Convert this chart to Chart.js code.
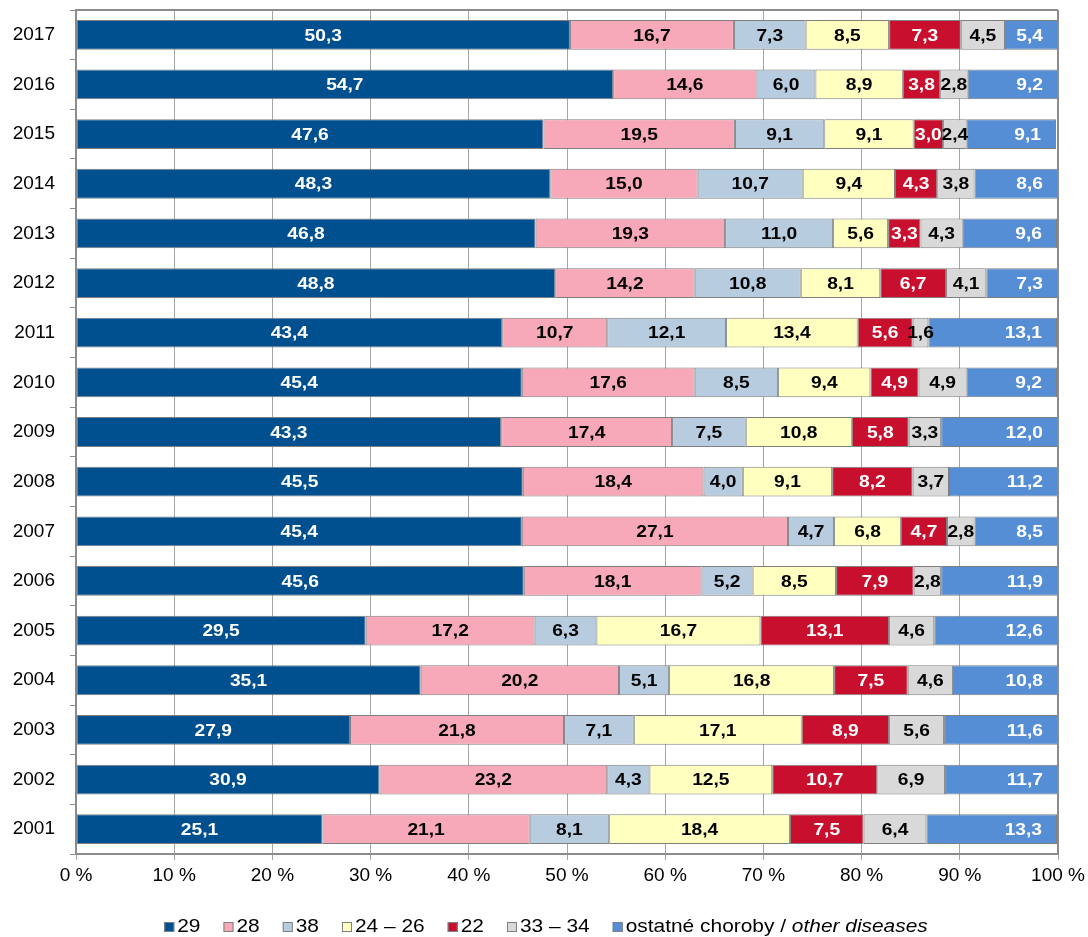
<!DOCTYPE html>
<html>
<head>
<meta charset="utf-8">
<script src="https://cdn.jsdelivr.net/npm/chart.js@4.4.1/dist/chart.umd.min.js"></script>
<style>
html,body{margin:0;padding:0;background:#fff;}
#wrap{width:1088px;height:937px;position:relative;}
</style>
</head>
<body>
<div id="wrap"><canvas id="c" width="1088" height="937"></canvas></div>
<script>
const years = ['2017','2016','2015','2014','2013','2012','2011','2010','2009','2008','2007','2006','2005','2004','2003','2002','2001'];
const seriesNames = ['29','28','38','24 – 26','22','33 – 34','ostatné choroby / '];
const s29    = [50.3,54.7,47.6,48.3,46.8,48.8,43.4,45.4,43.3,45.5,45.4,45.6,29.5,35.1,27.9,30.9,25.1];
const s28    = [16.7,14.6,19.5,15.0,19.3,14.2,10.7,17.6,17.4,18.4,27.1,18.1,17.2,20.2,21.8,23.2,21.1];
const s38    = [7.3,6.0,9.1,10.7,11.0,10.8,12.1,8.5,7.5,4.0,4.7,5.2,6.3,5.1,7.1,4.3,8.1];
const s2426  = [8.5,8.9,9.1,9.4,5.6,8.1,13.4,9.4,10.8,9.1,6.8,8.5,16.7,16.8,17.1,12.5,18.4];
const s22    = [7.3,3.8,3.0,4.3,3.3,6.7,5.6,4.9,5.8,8.2,4.7,7.9,13.1,7.5,8.9,10.7,7.5];
const s3334  = [4.5,2.8,2.4,3.8,4.3,4.1,1.6,4.9,3.3,3.7,2.8,2.8,4.6,4.6,5.6,6.9,6.4];
const sOther = [5.4,9.2,9.1,8.6,9.6,7.3,13.1,9.2,12.0,11.2,8.5,11.9,12.6,10.8,11.6,11.7,13.3];
const xTicks = [0,10,20,30,40,50,60,70,80,90,100];

const colors = ['#00508f','#f8a9b9','#b8cce0','#ffffc0','#c8102e','#d9d9d9','#558ed5'];
const labelColors = ['#fff','#000','#000','#000','#fff','#000','#fff'];
const allSeries = [s29,s28,s38,s2426,s22,s3334,sOther];

const datasets = allSeries.map((d,i)=>({
  label: seriesNames[i],
  data: d,
  backgroundColor: colors[i],
  borderColor: '#7f7f7f',
  borderWidth: 1,
  borderSkipped: false,
  barPercentage: 0.6,
  categoryPercentage: 1.0
}));

const FONT = '"Liberation Sans", Arial, sans-serif';

const framePlugin = {
  id: 'frame',
  afterDatasetsDraw(chart) {
    const ctx = chart.ctx, a = chart.chartArea;
    ctx.save();
    ctx.strokeStyle = '#8c8c8c';
    ctx.lineWidth = 2;
    ctx.beginPath();
    ctx.moveTo(a.left, a.top); ctx.lineTo(a.right, a.top);
    ctx.moveTo(a.right, a.top); ctx.lineTo(a.right, a.bottom);
    ctx.stroke();
    ctx.restore();
  }
};

function stretchedText(ctx, txt, x, y, sx) {
  ctx.save();
  ctx.translate(x, y);
  ctx.scale(sx, 1);
  ctx.fillText(txt, 0, 0);
  ctx.restore();
}

const labelPlugin = {
  id: 'vals',
  afterDatasetsDraw(chart) {
    const ctx = chart.ctx;
    const SX = 1.13;
    ctx.save();
    ctx.font = 'bold 17px ' + FONT;
    ctx.textBaseline = 'middle';
    chart.data.datasets.forEach((ds, di) => {
      const meta = chart.getDatasetMeta(di);
      meta.data.forEach((el, i) => {
        const p = el.getProps(['x','y','base'], true);
        const txt = ds.data[i].toFixed(1).replace('.', ',');
        ctx.fillStyle = labelColors[di];
        if (di === allSeries.length - 1) {
          ctx.textAlign = 'right';
          const xr = Math.min(p.x, chart.chartArea.right) - 15;
          stretchedText(ctx, txt, xr, p.y + 1, SX);
        } else {
          ctx.textAlign = 'center';
          stretchedText(ctx, txt, (p.x + p.base) / 2, p.y + 1, SX);
        }
      });
    });
    ctx.restore();
  }
};

const legendPlugin = {
  id: 'customLegend',
  afterDraw(chart) {
    const ctx = chart.ctx;
    ctx.save();
    const SX = 1.1;
    const nFont = '19px ' + FONT;
    const italicFont = 'italic 19px ' + FONT;
    const box = 10, gapBox = 3, gapItem = 23;
    const widths = seriesNames.map((n, i) => {
      ctx.font = nFont;
      let w = ctx.measureText(n).width;
      if (i === seriesNames.length - 1) { ctx.font = italicFont; w += ctx.measureText('other diseases').width; }
      return box + gapBox + w * SX;
    });
    const total = widths.reduce((a,b)=>a+b,0) + gapItem*(widths.length-1);
    let x = 546 - total/2;
    const y = 927;
    ctx.textBaseline = 'middle';
    ctx.textAlign = 'left';
    seriesNames.forEach((n, i) => {
      ctx.fillStyle = colors[i];
      ctx.fillRect(x, y - 5, box, box);
      ctx.strokeStyle = '#7f7f7f';
      ctx.lineWidth = 1;
      ctx.strokeRect(x + 0.5, y - 4.5, box - 1, box - 1);
      ctx.fillStyle = '#000';
      ctx.font = nFont;
      stretchedText(ctx, n, x + box + gapBox, y, SX);
      if (i === seriesNames.length - 1) {
        const w0 = ctx.measureText(n).width * SX;
        ctx.font = italicFont;
        stretchedText(ctx, 'other diseases', x + box + gapBox + w0, y, SX);
      }
      x += widths[i] + gapItem;
    });
    ctx.restore();
  }
};

new Chart(document.getElementById('c'), {
  type: 'bar',
  data: { labels: years, datasets },
  options: {
    indexAxis: 'y',
    responsive: false,
    animation: false,
    devicePixelRatio: 1,
    layout: { padding: { top: 10, right: 30, bottom: 53, left: 0 } },
    plugins: { legend: { display: false }, tooltip: { enabled: false } },
    scales: {
      x: {
        stacked: true,
        min: 0, max: 100,
        afterBuildTicks(scale) { scale.ticks = xTicks.map(v => ({ value: v })); },
        afterFit(scale) { scale.height = 30; scale.paddingLeft = 0; scale.paddingRight = 0; },
        ticks: {
          font: { family: FONT, size: 19 },
          color: '#000',
          padding: 4,
          maxRotation: 0,
          callback: v => v + ' %'
        },
        grid: { color: '#a6a6a6', lineWidth: 1, tickLength: 6, drawTicks: true },
        border: { color: '#8c8c8c', width: 2 }
      },
      y: {
        stacked: true,
        afterFit(scale) { scale.width = 76; scale.paddingTop = 0; scale.paddingBottom = 0; },
        ticks: {
          font: { family: FONT, size: 19 },
          color: '#000',
          padding: 15
        },
        grid: { drawOnChartArea: false, drawTicks: true, tickLength: 6, color: '#8c8c8c', offset: true },
        border: { color: '#8c8c8c', width: 2 }
      }
    }
  },
  plugins: [framePlugin, labelPlugin, legendPlugin]
});
</script>
</body>
</html>
